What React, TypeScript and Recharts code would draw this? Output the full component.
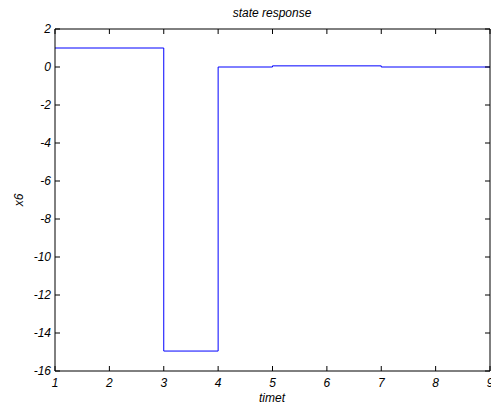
import React from 'react';
import { LineChart, Line, XAxis, YAxis } from 'recharts';

const T_VALUES = [1, 3, 4, 5, 7, 9];
const X6_VALUES = [1, -14.95, 0, 0.06, 0, 0];
const X_TICKS = [1, 2, 3, 4, 5, 6, 7, 8, 9];
const Y_TICKS = [-16, -14, -12, -10, -8, -6, -4, -2, 0, 2];
const TITLE = 'state response';
const X_LABEL = 'timet';
const Y_LABEL = 'x6';

const data = T_VALUES.map((t, i) => ({ t, v: X6_VALUES[i] }));

const FONT = '"Liberation Sans", Arial, sans-serif';

const BottomTick = (props: any) => {
  const { x, y, payload } = props;
  return (
    <g>
      <line x1={x} y1={y} x2={x} y2={y - 5} stroke="#000" />
      <text x={x} y={y + 16} textAnchor="middle" fontSize={12} fontStyle="italic" fontFamily={FONT} fill="#000">
        {payload.value}
      </text>
    </g>
  );
};

const TopTick = (props: any) => {
  const { x, y } = props;
  return <line x1={x} y1={y} x2={x} y2={y + 5} stroke="#000" />;
};

const LeftTick = (props: any) => {
  const { x, y, payload } = props;
  return (
    <g>
      <line x1={x} y1={y} x2={x + 5} y2={y} stroke="#000" />
      <text x={x - 4} y={y + 4} textAnchor="end" fontSize={12} fontStyle="italic" fontFamily={FONT} fill="#000">
        {payload.value}
      </text>
    </g>
  );
};

const RightTick = (props: any) => {
  const { x, y } = props;
  return <line x1={x} y1={y} x2={x - 5} y2={y} stroke="#000" />;
};

export default function App() {
  return (
    <div style={{ position: 'absolute', left: 0, top: 0, width: 491, height: 407, background: '#fff' }}>
      <LineChart width={491} height={407} data={data} margin={{ top: 28, right: 0, bottom: 0, left: 0 }}>
        <XAxis
          xAxisId="b"
          dataKey="t"
          type="number"
          domain={[1, 9]}
          ticks={X_TICKS}
          allowDataOverflow
          height={36}
          tickSize={0}
          tickMargin={0}
          tickLine={false}
          axisLine={{ stroke: '#000' }}
          tick={BottomTick}
          interval={0}
        />
        <XAxis
          xAxisId="t"
          orientation="top"
          dataKey="t"
          type="number"
          domain={[1, 9]}
          ticks={X_TICKS}
          allowDataOverflow
          height={1}
          tickSize={0}
          tickMargin={0}
          tickLine={false}
          axisLine={{ stroke: '#000' }}
          tick={TopTick}
          interval={0}
        />
        <YAxis
          yAxisId="l"
          type="number"
          domain={[-16, 2]}
          ticks={Y_TICKS}
          allowDataOverflow
          width={55}
          tickSize={0}
          tickMargin={0}
          tickLine={false}
          axisLine={{ stroke: '#000' }}
          tick={LeftTick}
          interval={0}
        />
        <YAxis
          yAxisId="r"
          orientation="right"
          type="number"
          domain={[-16, 2]}
          ticks={Y_TICKS}
          allowDataOverflow
          width={1}
          tickSize={0}
          tickMargin={0}
          tickLine={false}
          axisLine={{ stroke: '#000' }}
          tick={RightTick}
          interval={0}
        />
        <Line
          xAxisId="b"
          yAxisId="l"
          type="stepAfter"
          dataKey="v"
          stroke="#0000ff"
          strokeWidth={1}
          dot={false}
          isAnimationActive={false}
        />
      </LineChart>
      <svg width={491} height={407} style={{ position: 'absolute', left: 0, top: 0, pointerEvents: 'none' }}>
        <text x={272} y={17} textAnchor="middle" fontSize={12} fontStyle="italic" fontFamily={FONT} fill="#000">
          {TITLE}
        </text>
        <text x={272} y={402} textAnchor="middle" fontSize={12} fontStyle="italic" fontFamily={FONT} fill="#000">
          {X_LABEL}
        </text>
        <text
          x={23}
          y={200}
          textAnchor="middle"
          fontSize={12}
          fontStyle="italic"
          fontFamily={FONT}
          fill="#000"
          transform="rotate(-90 23 200)"
        >
          {Y_LABEL}
        </text>
      </svg>
    </div>
  );
}
